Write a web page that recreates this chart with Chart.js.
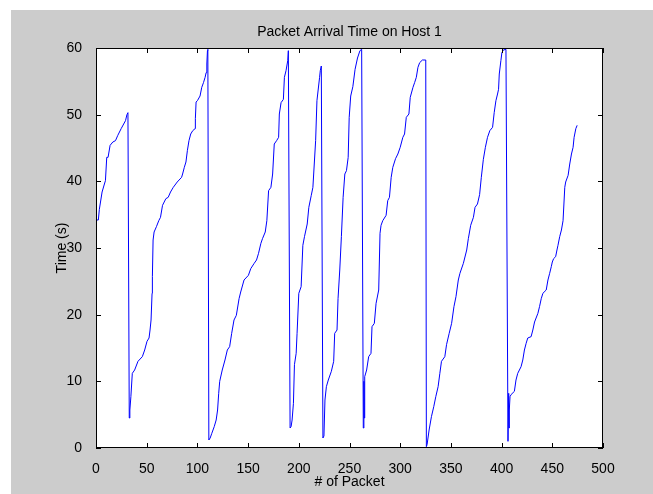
<!DOCTYPE html>
<html>
<head>
<meta charset="utf-8">
<script src="https://cdn.jsdelivr.net/npm/chart.js@4.4.0/dist/chart.umd.min.js"></script>
<style>
html, body { margin: 0; padding: 0; background: #fff; }
canvas { display: block; }
</style>
</head>
<body>
<canvas id="arrivalChart" width="653" height="494"></canvas>
<script>
// packet number and arrival time (s)
const packetNo = [
  0, 2.3, 3.3, 6, 8.3, 9.3, 10.6, 11.9, 13.9, 16.6, 19.2, 21.5, 24.8, 29.1, 30.5, 31.5,
  32.8, 33.4, 34.4, 35.8, 38.1, 41.4, 45.7, 48, 50.3, 52.3, 53.3, 54.3, 55.3, 55.6, 56.3, 57.3,
  59.6, 61.9, 63.6, 65.6, 68.9, 71.2, 73.5, 76.2, 80.1, 84.4, 85.4, 87.1, 88.7, 90.1, 91.7, 93.4,
  95.4, 97.7, 98, 98.7, 100, 102.6, 104.3, 106, 107.6, 108.6, 109.3, 109.9, 110.3,
  111.3, 112.6, 114.2, 116.6, 118.5, 119.9, 121, 122, 124.5, 127.2, 129.5, 131.8, 133.8, 136.1,
  138.4, 141.1, 142.7, 146, 150.3, 152.6, 156, 158.3, 160.3, 162.6, 164.2, 166.9, 168.5, 170.2,
  172.5, 174.2, 175.8, 178.1, 180.1, 180.8, 182.5, 184.8, 185.8, 187.4, 189.1, 189.7,
  191.4, 192.4, 193.4, 194.7, 195.7, 197.4, 198.3, 200, 202.3, 204, 205.6, 208.3, 209.9, 212.3,
  213.9, 216.6, 217.9, 220.5, 221.2, 222.2,
  223.8, 224.8, 225.8, 227.2, 229.1, 232.1, 234.4, 235.4, 237.7, 238.7, 240.4, 242, 243.7, 245.4,
  247, 248.7, 249.7, 251.2, 253.3, 255.5, 257.9, 260.3, 262,
  263.6, 264.2, 264.5, 265, 266.9, 268.9, 271.2, 272.2, 274.5, 276.2, 278.8, 280.1, 281.1, 282.8,
  286.1, 287.7, 289.4, 291.1, 292.7, 295.4, 297.7, 300, 302.6, 304.3, 306, 308.6, 309.9, 312.6,
  314.2, 315.9, 317.5, 319.2, 321.9, 325.2,
  325.8, 326.5, 328.5, 330.8, 333.1, 335.1, 337.4, 339.1, 340.7, 344, 345.7, 348.3, 350.7, 353,
  355, 357.3, 358.9, 362.3, 365.6, 367.2, 369.5, 372.2, 373.8, 376.2, 378.3, 380, 382, 384,
  386.1, 388.4, 391.1, 392.7, 394.4, 396, 397, 397.7, 399.3, 400.3, 401.7, 404.3,
  406.3, 407, 407.3, 407.6, 408.3, 409.3, 412.6, 414.2, 415.9, 419.2, 420.9, 422.5, 424.2, 425.8,
  429.1, 430.8, 432.5, 435.8, 437.4, 439.1, 440.7, 444, 445.7, 447.4, 449, 450, 451.3, 453.3,
  454.6, 455.6, 457.3, 459, 460.6, 462.3, 463.2, 465.6, 467.2, 468.9, 470.5, 471.5, 473.2, 474.5
];
const arrivalSec = [
  34.2, 34.2, 35.8, 38.4, 39.6, 40.1, 43.6, 43.6, 45.4, 45.9, 46.1, 46.9, 47.9, 49.1, 50.0, 50.3,
  4.5, 5.7, 7.7, 11.2, 11.7, 13.0, 13.7, 14.7, 16.0, 16.5, 17.7, 19.2, 23.2, 25.7, 31.2, 32.4,
  33.2, 34.1, 34.6, 36.4, 37.4, 37.6, 38.4, 39.1, 39.9, 40.6, 41.1, 42.1, 42.9, 44.6, 46.1, 47.1,
  47.6, 47.9, 49.4, 51.9, 52.1, 52.8, 54.1, 54.8, 55.6, 56.3, 57.6, 59.6, 59.8,
  1.2, 1.5, 2.2, 3.2, 4.2, 5.7, 8.2, 10.0, 11.7, 13.2, 14.7, 15.2, 17.2, 19.2,
  19.9, 22.4, 23.4, 25.2, 25.9, 26.9, 27.7, 28.2, 29.2, 30.7, 31.4, 32.4, 34.1, 38.6,
  39.1, 41.1, 45.6, 46.1, 46.6, 50.1, 51.8, 52.3, 55.6, 56.6, 58.1, 59.6,
  3.0, 3.2, 4.2, 6.7, 12.5, 14.2, 17.2, 23.2, 24.2, 30.4, 31.7, 33.6, 36.1, 37.9,
  39.1, 46.1, 52.1, 55.6, 56.6, 57.3,
  1.5, 1.8, 7.2, 9.2, 10.2, 11.5, 13.0, 17.2, 17.7, 22.4, 26.7, 31.7, 37.6, 41.1,
  41.6, 43.6, 49.6, 52.8, 54.2, 56.8, 58.5, 59.6, 59.8,
  3.0, 10.0, 4.5, 10.7, 11.7, 13.7, 14.2, 18.2, 18.7, 21.7, 23.7, 32.2, 33.4, 34.1,
  34.9, 37.1, 37.6, 40.6, 42.1, 43.4, 44.1, 45.1, 46.6, 47.1, 49.6, 50.1, 52.6, 54.1,
  54.8, 55.6, 57.1, 57.8, 58.2, 58.2,
  0.2, 0.5, 2.7, 4.7, 6.2, 7.7, 9.2, 11.2, 13.0, 13.7, 15.5, 17.2, 18.7, 21.2,
  22.7, 25.2, 26.2, 27.7, 29.7, 31.4, 33.4, 34.6, 36.1, 36.6, 38.0, 40.6, 43.3, 45.1,
  46.6, 47.6, 48.1, 50.3, 52.1, 53.1, 53.8, 56.1, 58.1, 59.3, 59.7, 59.8,
  1.0, 8.2, 3.0, 5.7, 7.7, 8.0, 8.5, 10.2, 11.2, 12.2, 13.2, 14.7, 15.7, 16.5,
  16.7, 17.7, 18.9, 20.2, 21.2, 22.4, 23.2, 23.7, 25.2, 26.2, 27.2, 27.9, 28.4, 28.7,
  29.7, 30.4, 31.7, 32.7, 34.1, 39.1, 39.9, 40.9, 42.6, 44.1, 45.1, 46.6, 47.9, 48.4
];
const xTickValues = [0, 50, 100, 150, 200, 250, 300, 350, 400, 450, 500];
const yTickValues = [0, 10, 20, 30, 40, 50, 60];

const FONT = { family: '"Liberation Sans", Arial, sans-serif', size: 14 };

// gray figure, white axes box, inward ticks on all four sides
const figureFrame = {
  id: 'figureFrame',
  beforeDraw(chart) {
    const { ctx, width, height, chartArea: a } = chart;
    ctx.save();
    ctx.fillStyle = '#ffffff';
    ctx.fillRect(0, 0, width, height);
    ctx.fillStyle = '#cccccc';
    ctx.fillRect(11, 10, width - 11, height - 10);
    ctx.fillStyle = '#ffffff';
    ctx.fillRect(a.left, a.top, a.right - a.left, a.bottom - a.top);
    ctx.restore();
  },
  afterDraw(chart) {
    const { ctx, chartArea: a, scales } = chart;
    ctx.save();
    ctx.strokeStyle = '#000000';
    ctx.lineWidth = 1;
    ctx.beginPath();
    scales.x.ticks.forEach(t => {
      const px = Math.round(scales.x.getPixelForValue(t.value)) + 0.5;
      ctx.moveTo(px, a.bottom); ctx.lineTo(px, a.bottom - 5);
      ctx.moveTo(px, a.top); ctx.lineTo(px, a.top + 5);
    });
    scales.y.ticks.forEach(t => {
      const py = Math.round(scales.y.getPixelForValue(t.value)) + 0.5;
      ctx.moveTo(a.left, py); ctx.lineTo(a.left + 5, py);
      ctx.moveTo(a.right, py); ctx.lineTo(a.right - 5, py);
    });
    ctx.stroke();
    ctx.strokeRect(a.left + 0.5, a.top + 0.5, a.right - a.left - 1, a.bottom - a.top - 1);
    ctx.restore();
  }
};

const ctx = document.getElementById('arrivalChart').getContext('2d');

const arrivalChart = new Chart(ctx, {
  type: 'scatter',
  data: {
    datasets: [{
      label: 'Arrival time',
      data: packetNo.map((x, i) => ({ x: x, y: arrivalSec[i] })),
      showLine: true,
      borderColor: '#0000ff',
      borderWidth: 1,
      pointRadius: 0,
      tension: 0
    }]
  },
  options: {
    responsive: false,
    animation: false,
    layout: { padding: { left: 0, right: 50, top: 0, bottom: 0 } },
    plugins: {
      legend: { display: false },
      title: { display: false },
      tooltip: { enabled: false }
    },
    scales: {
      x: {
        type: 'linear',
        position: 'bottom',
        min: 0,
        max: 500,
        afterBuildTicks: s => { s.ticks = xTickValues.map(v => ({ value: v })); },
        afterFit: s => { s.height = 46; },
        grid: { display: false },
        border: { display: false },
        ticks: { color: '#000', font: FONT, padding: 5, maxRotation: 0 },
        title: { display: true, text: '# of Packet', color: '#000', font: FONT, padding: { top: 0, bottom: 3.6 } }
      },
      xTop: {
        type: 'linear',
        position: 'top',
        min: 0,
        max: 500,
        afterFit: s => { s.height = 48; },
        grid: { display: false },
        border: { display: false },
        ticks: { display: false },
        title: { display: true, text: 'Packet Arrival Time on Host 1', color: '#000', font: FONT, padding: { top: 23.6, bottom: 0 } }
      },
      y: {
        type: 'linear',
        position: 'left',
        min: 0,
        max: 60,
        afterBuildTicks: s => { s.ticks = yTickValues.map(v => ({ value: v })); },
        afterFit: s => { s.width = 96; },
        grid: { display: false },
        border: { display: false },
        ticks: { color: '#000', font: FONT, padding: 6 },
        title: { display: true, text: 'Time (s)', color: '#000', font: FONT, padding: { top: 53.6, bottom: 0 } }
      }
    }
  },
  plugins: [figureFrame]
});
</script>
</body>
</html>
